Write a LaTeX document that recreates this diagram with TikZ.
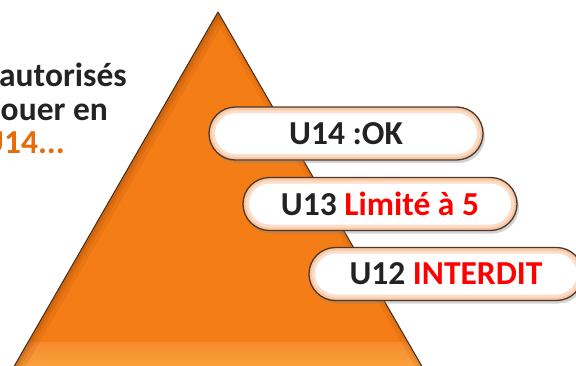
\documentclass[tikz,border=0pt]{standalone}
\usepackage{fontspec}
\setmainfont{Carlito}
\usetikzlibrary{shapes.misc,shadows}
\definecolor{tri}{RGB}{245,125,22}
\definecolor{tridark}{RGB}{150,65,5}
\definecolor{triband}{RGB}{251,165,62}
\definecolor{triline}{RGB}{70,45,25}
\definecolor{pillline}{RGB}{75,55,45}
\definecolor{peach}{RGB}{248,200,165}
\definecolor{txt}{RGB}{35,35,35}
\definecolor{redtxt}{RGB}{255,0,0}
\definecolor{orangetxt}{RGB}{228,108,10}
\tikzset{
  pill/.style={rounded rectangle, draw=pillline, line width=1.3pt, fill=white,
    minimum width=274pt, minimum height=53pt, inner sep=0pt,
    text=txt, font=\fontsize{33.5}{40}\selectfont\bfseries,
    drop shadow={opacity=.35, shadow xshift=2pt, shadow yshift=-3pt},
    path picture={
      \draw[peach!60!white, line width=12pt] (path picture bounding box.south west) [rounded corners=26.5pt] rectangle (path picture bounding box.north east);
      \draw[peach, line width=6pt] (path picture bounding box.south west) [rounded corners=26.5pt] rectangle (path picture bounding box.north east);
    }},
  side/.style={anchor=base west, inner sep=0pt, text=txt, font=\fontsize{33.5}{40}\selectfont\bfseries}
}
\begin{document}
\begin{tikzpicture}[x=1pt,y=-1pt]
\useasboundingbox (0,0) rectangle (576,365);
% pyramid
\coordinate (apex) at (218,12);
\coordinate (bl) at (12,370);
\coordinate (br) at (424,370);
\fill[tri] (apex) -- (br) -- (bl) -- cycle;
\begin{scope}
  \clip (apex) -- (br) -- (bl) -- cycle;
  \fill[top color=tri!90!white, bottom color=triband] (0,342) rectangle (576,370);
  \draw[tridark, opacity=.12, line width=20pt] (apex) -- (bl);
  \draw[tridark, opacity=.15, line width=12pt] (apex) -- (bl);
  \draw[tridark, opacity=.2, line width=6pt] (apex) -- (bl);
  \draw[tridark, opacity=.10, line width=12pt] (apex) -- (br);
  \draw[tridark, opacity=.12, line width=5pt] (apex) -- (br);
\end{scope}
\draw[triline, line width=1pt, line join=round] (bl) -- (apex) -- (br);
% side text
\node[side] (l1) at (-1,86) {autorisés};
\node[side] (l2) at (-8,120) {jouer en};
\node[side, text=orangetxt] (l3) at (-18,153) {U14...};
% pills
\node[pill] (u14) at (346,133.5) {U14 :OK};
\node[pill] (u13) at (380,204) {U13 \textcolor{redtxt}{Limité à 5}};
\node[pill] (u12) at (446,274) {U12 \textcolor{redtxt}{INTERDIT}};
\end{tikzpicture}
\end{document}
